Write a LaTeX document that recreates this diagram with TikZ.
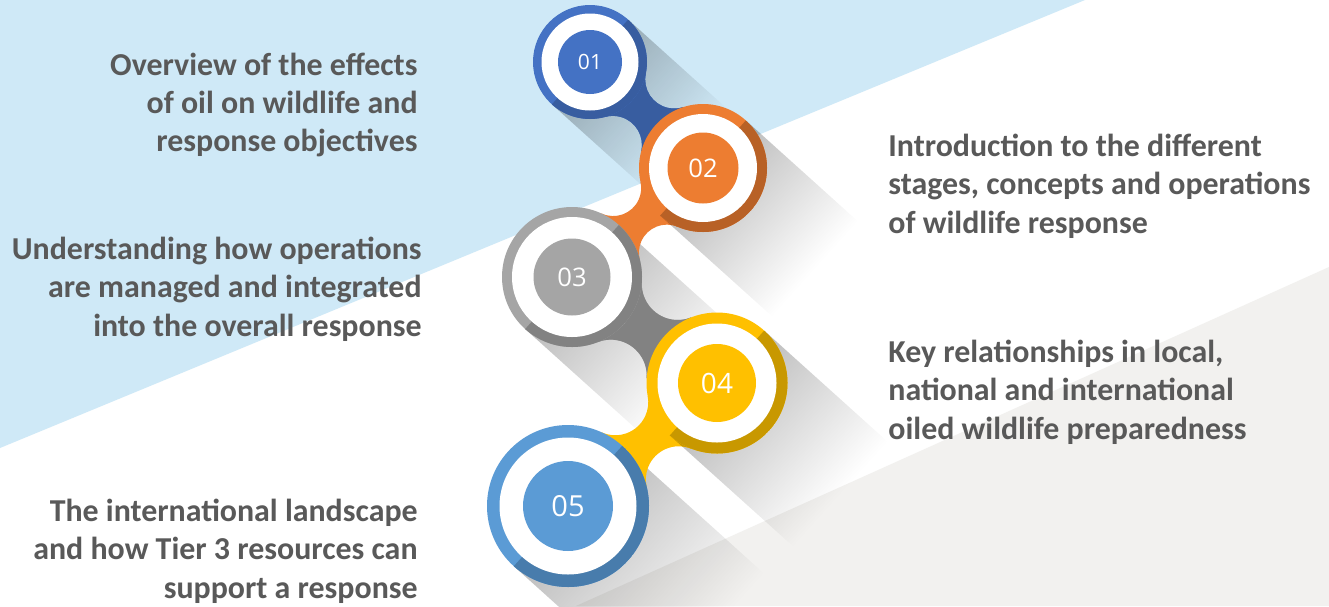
\documentclass[tikz,border=0pt]{standalone}
\usepackage{fontspec}
\setmainfont{Carlito}
\newfontfamily\numfont{Open Sans}
\usetikzlibrary{intersections,fadings,calc}
\definecolor{bgblue}{RGB}{207,233,247}
\definecolor{bggray}{RGB}{242,241,239}
\definecolor{txt}{RGB}{89,89,89}
\definecolor{cA}{RGB}{68,114,196}\definecolor{dA}{RGB}{56,93,160}
\definecolor{cB}{RGB}{237,125,49}\definecolor{dB}{RGB}{184,97,38}
\definecolor{cC}{RGB}{165,165,165}\definecolor{dC}{RGB}{130,130,130}
\definecolor{cD}{RGB}{255,192,0}\definecolor{dD}{RGB}{200,152,0}
\definecolor{cE}{RGB}{91,155,213}\definecolor{dE}{RGB}{72,124,172}
\tikzset{
  labeltext/.style={font=\fontsize{15.95}{19.2}\selectfont\bfseries, text=txt, inner sep=0pt},
  numdisc/.style={circle, inner sep=0pt, text=white},
}
% concave arc on cutter circle #1 from #2 to #3, radius #4
\newcommand\cutarc[4]{let \p1=($(#2)-(#1)$), \p2=($(#3)-(#1)$),
  \n1={atan2(\y1,\x1)}, \n2={atan2(\y2,\x2)}, \n3={mod(\n2-\n1+540,360)-180}
  in arc[start angle=\n1, delta angle=\n3, radius=#4]}
\newcommand\neckpath[3]{(#1) -- (ta1) \cutarc{k1}{ta1}{tb1}{#3} -- (#2) -- (tb2) \cutarc{k2}{tb2}{ta2}{#3} -- cycle}
% neck between two circles: #1 A, #2 B, #3 RA, #4 RB, #5 rc, #6 colour, #7 dark
\newcommand\neckshape[7]{%
  \path[name path=nka] (#1) circle[radius=#3+#5];
  \path[name path=nkb] (#2) circle[radius=#4+#5];
  \path[name intersections={of=nka and nkb, by={k1,k2}}];
  \coordinate (ta1) at ($(#1)!#3/(#3+#5)!(k1)$);
  \coordinate (tb1) at ($(#2)!#4/(#4+#5)!(k1)$);
  \coordinate (ta2) at ($(#1)!#3/(#3+#5)!(k2)$);
  \coordinate (tb2) at ($(#2)!#4/(#4+#5)!(k2)$);
  \fill[#6] \neckpath{#1}{#2}{#5};
  \begin{scope}
    \clip \neckpath{#1}{#2}{#5};
    \begin{scope}[shift={(#1)}, rotate=-42]
      \fill[#7] (0,-#3) rectangle (400,#3);
    \end{scope}
  \end{scope}}
% ring disc: #1 coord, #2 R, #3 W, #4 colour, #5 dark, #6 node, #7 inner diam (pt), #8 font size, #9 label
\newcommand\ringdisc[9]{%
  \fill[#4] (#1) circle[radius=#2];
  \begin{scope}[shift={(#1)}, rotate=-42]
    \clip (0,0) circle[radius=#2];
    \fill[#5] (0,-#2) rectangle (#2,#2);
  \end{scope}
  \fill[white] (#1) circle[radius=#3];
  \node[numdisc, fill=#4, minimum size=#7pt, font=\numfont\fontsize{#8}{#8}\selectfont] (#6) at (#1) {#9};}
\begin{document}
\begin{tikzpicture}[x=0.5pt,y=0.5pt]
\useasboundingbox (0,0) rectangle (1329,-606);
\clip (0,0) rectangle (1329,-606);
\fill[white] (0,0) rectangle (1329,-606);
\fill[bgblue] (0,0) -- (1085,0) -- (0,-448) -- cycle;
\fill[bggray] (1329,-267) -- (1329,-606) -- (576,-606) -- cycle;

\coordinate (c1) at (590,-62);
\coordinate (c2) at (703,-168);
\coordinate (c3) at (572,-277);
\coordinate (c4) at (717,-383);
\coordinate (c5) at (568,-506);

% long shadows
\foreach \c/\R in {c1/57, c2/64, c3/70, c4/70.5, c5/81}{
  \begin{scope}[transform canvas={shift={(\c)}, rotate=-42}]
    \fill[black, opacity=0.27, path fading=east] (0,-\R) rectangle ({2.35*\R},\R);
  \end{scope}
}

% necks
\neckshape{c1}{c2}{57}{64}{29}{cA}{dA}
\neckshape{c2}{c3}{64}{70}{28}{cB}{dB}
\neckshape{c3}{c4}{70}{70.5}{36}{cC}{dC}
\neckshape{c4}{c5}{70.5}{81}{33}{cD}{dD}

% discs
\ringdisc{c1}{57}{48.5}{cA}{dA}{n1}{32}{10.5}{01}
\ringdisc{c2}{64}{54}{cB}{dB}{n2}{35.5}{12.8}{02}
\ringdisc{c3}{70}{60}{cC}{dC}{n3}{38.5}{12.8}{03}
\ringdisc{c4}{70.5}{59.5}{cD}{dD}{n4}{39}{14}{04}
\ringdisc{c5}{81}{68.5}{cE}{dE}{n5}{45}{14.5}{05}

% texts
\node[labeltext, align=right, anchor=east] (t1) at (418,-105) {Overview of the effects\\of oil on wildlife and\\response objectives};
\node[labeltext, align=right, anchor=east] (t3) at (422,-289) {Understanding how operations\\are managed and integrated\\into the overall response};
\node[labeltext, align=right, anchor=east] (t5) at (418,-551) {The international landscape\\and how Tier 3 resources can\\support a response};
\node[labeltext, align=left, anchor=west] (t2) at (888,-186) {Introduction to the different\\stages, concepts and operations\\of wildlife response};
\node[labeltext, align=left, anchor=west] (t4) at (888,-392) {Key relationships in local,\\national and international\\oiled wildlife preparedness};
\end{tikzpicture}
\end{document}
